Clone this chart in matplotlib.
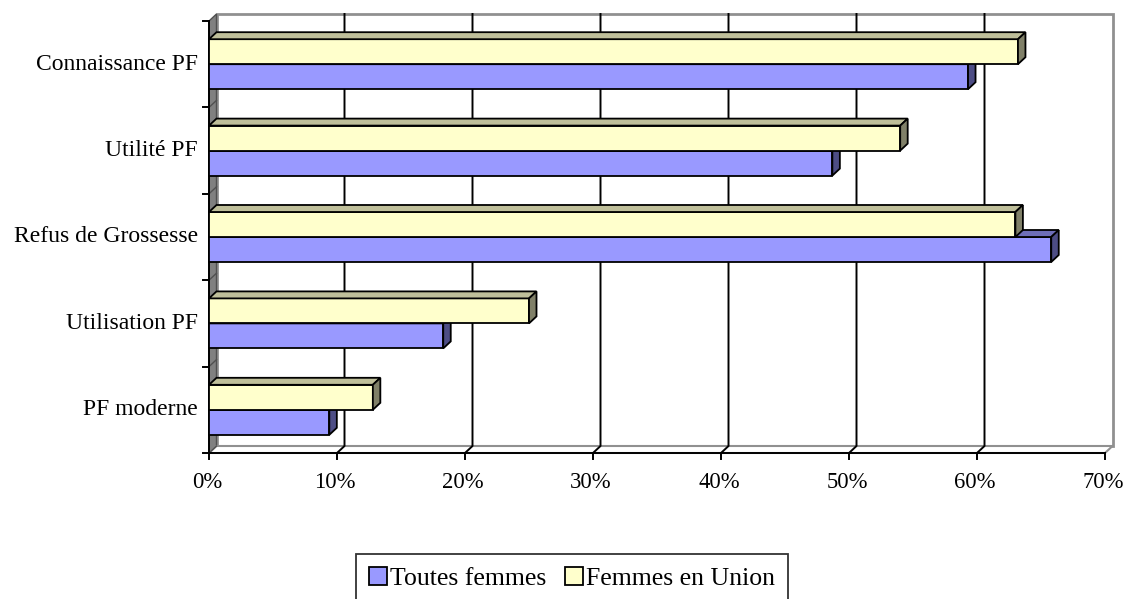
import matplotlib
matplotlib.use("Agg")
import matplotlib.pyplot as plt
from matplotlib.patches import Polygon, Rectangle
import numpy as np

categories = ["Connaissance PF", "Utilité PF", "Refus de Grossesse", "Utilisation PF", "PF moderne"]
toutes = [59.3, 48.7, 65.8, 18.3, 9.4]
union = [63.2, 54.0, 63.0, 25.0, 12.8]
series_names = ["Toutes femmes", "Femmes en Union"]
xticks = [0, 10, 20, 30, 40, 50, 60, 70]

plt.rcParams['font.family'] = ['Liberation Serif', 'DejaVu Serif']

fig = plt.figure(figsize=(11.24, 5.99), dpi=100)
L, R, T, B = 209, 1105, 21, 453
ax = fig.add_axes([L / 1124, (599 - B) / 599, (R - L) / 1124, (B - T) / 599])
ax.set_xlim(0, 70)
n = len(categories)
ax.set_ylim(-0.5, n - 0.5)
ax.axis('off')

px_x = (R - L) / 70.0
px_y = (B - T) / n
dx = 7.5 / px_x
dy = 7.0 / px_y
h = 25.0 / px_y

ypos = np.arange(n)[::-1]  # first category at top

ec = 'black'
lw = 1.3
# back wall
ax.add_patch(Polygon([(dx, -0.5 + dy), (70 + dx, -0.5 + dy), (70 + dx, n - 0.5 + dy), (dx, n - 0.5 + dy)],
                     closed=True, facecolor='white', edgecolor='#909090', lw=2, clip_on=False, zorder=0))
# left wall
ax.add_patch(Polygon([(0, -0.5), (dx, -0.5 + dy), (dx, n - 0.5 + dy), (0, n - 0.5)],
                     closed=True, facecolor='#808080', edgecolor='#505050', lw=1, clip_on=False, zorder=1))
# floor
ax.add_patch(Polygon([(0, -0.5), (70, -0.5), (70 + dx, -0.5 + dy), (dx, -0.5 + dy)],
                     closed=True, facecolor='white', edgecolor='#909090', lw=1.5, clip_on=False, zorder=1))
# gridlines
for v in xticks[1:-1]:
    ax.plot([v, v + dx, v + dx], [-0.5, -0.5 + dy, n - 0.5 + dy], color='black', lw=1.4, zorder=1.5, clip_on=False)
# front axes
ax.plot([0, 0], [-0.5, n - 0.5], color='black', lw=1.4, zorder=2, clip_on=False)
ax.plot([0, 70], [-0.5, -0.5], color='black', lw=1.4, zorder=2, clip_on=False)
tick_len_x = 6 / px_x
tick_len_y = 6 / px_y
for v in xticks:
    ax.plot([v, v], [-0.5, -0.5 - tick_len_y], color='black', lw=1.4, clip_on=False)
    ax.text(v - 2 / px_x, -0.5 - 30 / px_y, f"{v}%", ha='center', va='center', fontsize=16.3, clip_on=False)
for k in range(n + 1):
    yb = -0.5 + k
    ax.plot([0, -tick_len_x], [yb, yb], color='black', lw=1.4, clip_on=False)
    if k < n:
        ax.plot([0, dx], [yb, yb + dy], color='#505050', lw=1, clip_on=False, zorder=1.2)
for i, c in enumerate(categories):
    ax.text(-11 / px_x, ypos[i], c, ha='right', va='center', fontsize=17, clip_on=False)


def bar3d(y0, v, front, top, side, z):
    y1 = y0 + h
    ax.add_patch(Polygon([(0, y0), (v, y0), (v, y1), (0, y1)], closed=True,
                         facecolor=front, edgecolor=ec, lw=lw, zorder=z, clip_on=False))
    ax.add_patch(Polygon([(0, y1), (v, y1), (v + dx, y1 + dy), (dx, y1 + dy)], closed=True,
                         facecolor=top, edgecolor=ec, lw=lw, zorder=z, clip_on=False, joinstyle='miter'))
    ax.add_patch(Polygon([(v, y0), (v, y1), (v + dx, y1 + dy), (v + dx, y0 + dy)], closed=True,
                         facecolor=side, edgecolor=ec, lw=lw, zorder=z, clip_on=False))


for i in range(n):
    yc = ypos[i]
    bar3d(yc - h, toutes[i], '#9999FF', '#6E6EB8', '#4D4D85', 3 + i * 0.1)
    bar3d(yc, union[i], '#FFFFCC', '#BFBF9A', '#808068', 3.05 + i * 0.1)

# legend
handles = [Rectangle((0, 0), 1, 1, facecolor='#9999FF', edgecolor='black', lw=1.3),
           Rectangle((0, 0), 1, 1, facecolor='#FFFFCC', edgecolor='black', lw=1.3)]
leg = fig.legend(handles, series_names, loc='upper center', bbox_to_anchor=(572 / 1124, 1 - 554 / 599),
                 ncol=2, fontsize=18.5, frameon=True, fancybox=False, edgecolor='black',
                 handlelength=0.7, handleheight=0.7, handletextpad=0.15, columnspacing=0.7,
                 borderpad=0.5, borderaxespad=0)
leg.get_frame().set_linewidth(1.3)

fig.savefig("out.png", dpi=100)
